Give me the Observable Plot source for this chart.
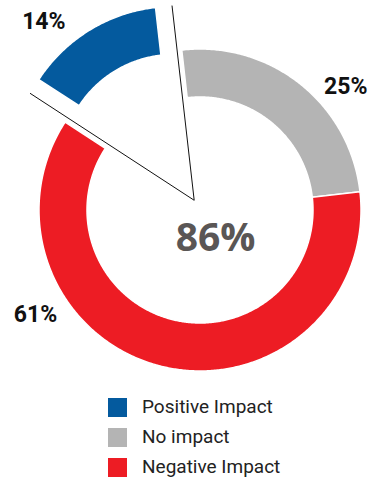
<!DOCTYPE html>
<html><head><meta charset="utf-8">
<script src="https://cdn.jsdelivr.net/npm/d3@7"></script>
<script src="https://cdn.jsdelivr.net/npm/@observablehq/plot@0.6"></script>
<style>
body{margin:0;background:#fff;font-family:Roboto,"Noto Sans",sans-serif;}
#legend{margin:2px 0 0 108px;}
.row{display:flex;align-items:center;height:30px;}
.sw{width:19px;height:19px;margin-right:15px;flex:none;}
.lab{font-size:19px;color:#222;line-height:20px;}
</style>
</head><body>
<div id="chart"></div>
<div id="legend"></div>
<script>
// ---- data ----
const categories = ["No impact", "Negative Impact", "Positive Impact"];
const values = [25, 61, 14];
const valueLabels = ["25%", "61%", "14%"];
const centerLabel = ["86%"];
const legendOrder = ["Positive Impact", "No impact", "Negative Impact"];
const colors = ["#b4b4b4", "#ed1c24", "#045a9e"];

// ---- layout ----
const W = 377, H = 390;
const CX = 200, CY = 210;
const START = -6.5;            // degrees, clockwise from top
const R_OUT = 161, R_IN = 113, EXPLODE = 50;
const explodedCat = "Positive Impact";
const labelPlace = {"No impact": [49.5, 191], "Negative Impact": [237.8, 195], "Positive Impact": [318.3, 196]};
const rad = d => d * Math.PI / 180;
const px = (a, r) => r * Math.sin(rad(a));
const py = (a, r) => -r * Math.cos(rad(a));

const total = d3.sum(values);
let acc = START;
const slices = categories.map((c, i) => {
  const a0 = acc, a1 = acc + values[i] / total * 360;
  acc = a1;
  const mid = (a0 + a1) / 2;
  const off = c === explodedCat ? EXPLODE : 0;
  return {cat: c, value: values[i], label: valueLabels[i], a0, a1, mid, ox: px(mid, off), oy: py(mid, off)};
});

const arcPts = [];
for (const s of slices) {
  const n = Math.ceil(s.a1 - s.a0) * 2;
  for (let k = 0; k <= n; k++) {
    const a = s.a0 + (s.a1 - s.a0) * k / n;
    arcPts.push({cat: s.cat, xo: s.ox + px(a, R_OUT), yo: s.oy + py(a, R_OUT), xi: s.ox + px(a, R_IN), yi: s.oy + py(a, R_IN)});
  }
}

const ex = slices.find(s => s.cat === explodedCat);
const vx = px(ex.mid, 12), vy = py(ex.mid, 12);
const wedge = [ex.a0, ex.a1].map(a => ({x1: vx, y1: vy, x2: vx + px(a, 196), y2: vy + py(a, 196)}));

const labelData = slices.map(s => {
  const [a, r] = labelPlace[s.cat];
  return {text: s.label, x: s.ox + px(a, r), y: s.oy + py(a, r)};
});

const chart = Plot.plot({
  width: W, height: H,
  margin: 0,
  x: {domain: [-CX, W - CX], range: [0, W], axis: null},
  y: {domain: [-CY, H - CY], range: [0, H], axis: null},
  color: {domain: categories, range: colors},
  marks: [
    Plot.area(arcPts, {x1: "xo", y1: "yo", x2: "xi", y2: "yi", z: "cat", fill: "cat", stroke: "white", strokeWidth: 1.5, curve: "linear"}),
    Plot.link(wedge, {x1: "x1", y1: "y1", x2: "x2", y2: "y2", stroke: "#111", strokeWidth: 1}),
    Plot.text(labelData, {x: "x", y: "y", text: "text", fontSize: 23, fontWeight: "bold", fill: "#111", fontFamily: "Roboto"}),
    Plot.text(centerLabel, {x: () => 15, y: () => 28, text: d => d, fontSize: 39, fontWeight: "bold", fill: "#5a5655", fontFamily: "Open Sans"})
  ]
});
document.getElementById("chart").appendChild(chart);

const leg = document.getElementById("legend");
for (const c of legendOrder) {
  const row = document.createElement("div"); row.className = "row";
  const sw = document.createElement("div"); sw.className = "sw";
  sw.style.background = colors[categories.indexOf(c)];
  const lab = document.createElement("div"); lab.className = "lab"; lab.textContent = c;
  row.append(sw, lab); leg.appendChild(row);
}
</script>
</body></html>
